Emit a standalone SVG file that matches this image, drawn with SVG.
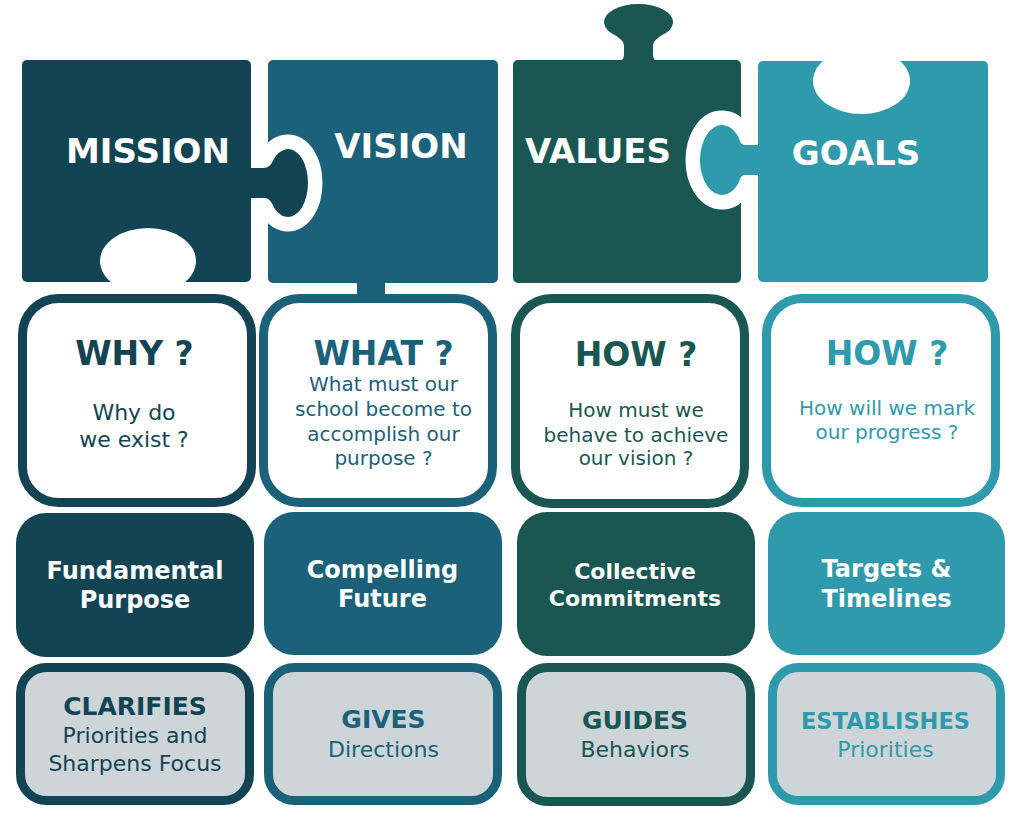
<svg xmlns="http://www.w3.org/2000/svg" width="1016" height="817" viewBox="0 0 1016 817">
<style>
.t{font-family:"DejaVu Sans","Verdana",sans-serif;text-anchor:middle}
.b{font-weight:bold}
.title{font-size:34px;fill:#fff;font-weight:bold}
.q{font-size:33px;font-weight:bold}
.s20{font-size:20px}
.s22{font-size:22px}
.c1{fill:#134454}.c2{fill:#1a6179}.c3{fill:#1a5752}.c4{fill:#2f9aab}
.o1{stroke:#134454}.o2{stroke:#1a6179}.o3{stroke:#1a5752}.o4{stroke:#2f9aab}
.box{fill:#fff;stroke-width:9}
.gbox{fill:#cdd5d9;stroke-width:9}
.w{fill:#fff}
.ring{fill:#fff;stroke:#fff;stroke-width:29;stroke-linejoin:round}
</style>
<defs>
  <path id="knobM" d="M246 168 L263 168 C268 168 270 166 272 162.6 A20 34 0 1 1 272 203.4 C270 200 268 198 263 198 L246 198 Z"/>
  <path id="knobG" d="M764 145 L745 145 C741 145 740 141 738 136 A22 35 0 1 0 738 184 C740 179 741 175 745 175 L764 175 Z"/>
</defs>
<rect width="1016" height="817" fill="#fff"/>
<g id="puzzle">
  <g id="vision-piece">
    <rect x="268" y="60" width="230" height="223" rx="5" class="c2"/>
    <path d="M353 281 C357 281 357 283 357 287 L357 300 L385 300 L385 287 C385 283 385 281 389 281 Z" class="c2"/>
  </g>
  <use href="#knobM" class="ring"/>
  <g id="mission-piece">
    <rect x="22" y="60" width="229" height="222" rx="5" class="c1"/>
    <use href="#knobM" class="c1"/>
    <ellipse cx="148" cy="261" rx="48" ry="33" class="w"/>
    <text x="148" y="163" class="t title">MISSION</text>
  </g>
  <text x="401" y="158" class="t title">VISION</text>
  <g id="values-piece">
    <rect x="513" y="60" width="228" height="223" rx="5" class="c3"/>
    <path d="M618 61 C623 61 624 58 624 53 L624 46 C624 41 620 39 616.5 35.9 A34.5 18 0 1 1 660.5 35.9 C657 39 653 41 653 46 L653 53 C653 58 654 61 659 61 Z" class="c3"/>
  </g>
  <use href="#knobG" class="ring"/>
  <g id="goals-piece">
    <rect x="758" y="61" width="230" height="221" rx="5" class="c4"/>
    <use href="#knobG" class="c4"/>
    <ellipse cx="861.5" cy="81" rx="48.5" ry="33" class="w"/>
    <text x="856" y="165" class="t title">GOALS</text>
  </g>
  <text x="598" y="163" class="t title">VALUES</text>
</g>
<g id="row2">
  <g id="why">
    <rect x="22.5" y="298.5" width="229" height="204" rx="36" class="box o1"/>
    <text x="134.5" y="365" class="t q c1">WHY ?</text>
    <text x="134" y="420" class="t s22 c1">Why do</text>
    <text x="134" y="447" class="t s22 c1">we exist ?</text>
  </g>
  <g id="what">
    <rect x="263.5" y="298.5" width="229" height="204" rx="36" class="box o2"/>
    <text x="383.5" y="365" class="t q c2">WHAT ?</text>
    <text x="383.5" y="391" class="t s20 c2">What must our</text>
    <text x="383.5" y="416" class="t s20 c2">school become to</text>
    <text x="383.5" y="441" class="t s20 c2">accomplish our</text>
    <text x="383.5" y="465" class="t s20 c2">purpose ?</text>
  </g>
  <g id="how1">
    <rect x="515.5" y="298.5" width="229" height="205" rx="36" class="box o3"/>
    <text x="636" y="366" class="t q c3">HOW ?</text>
    <text x="636" y="417" class="t s20 c3">How must we</text>
    <text x="636" y="442" class="t s20 c3">behave to achieve</text>
    <text x="636" y="465" class="t s20 c3">our vision ?</text>
  </g>
  <g id="how2">
    <rect x="766.5" y="298.5" width="229" height="204" rx="36" class="box o4"/>
    <text x="887" y="365" class="t q c4">HOW ?</text>
    <text x="887" y="415" class="t s20 c4">How will we mark</text>
    <text x="887" y="439" class="t s20 c4">our progress ?</text>
  </g>
</g>
<g id="row3">
  <g id="fundamental">
    <rect x="16" y="513" width="238" height="144" rx="30" class="c1"/>
    <text x="135" y="579" class="t b w" font-size="24">Fundamental</text>
    <text x="135" y="608" class="t b w" font-size="24">Purpose</text>
  </g>
  <g id="compelling">
    <rect x="264" y="512" width="238" height="143" rx="30" class="c2"/>
    <text x="382.5" y="578" class="t b w" font-size="24">Compelling</text>
    <text x="382.5" y="607" class="t b w" font-size="24">Future</text>
  </g>
  <g id="collective">
    <rect x="517" y="512" width="238" height="144" rx="30" class="c3"/>
    <text x="635" y="579" class="t b w" font-size="22">Collective</text>
    <text x="635" y="606" class="t b w" font-size="22">Commitments</text>
  </g>
  <g id="targets">
    <rect x="768" y="512" width="237" height="143" rx="30" class="c4"/>
    <text x="886.5" y="577" class="t b w" font-size="24">Targets &amp;</text>
    <text x="886.5" y="607" class="t b w" font-size="24">Timelines</text>
  </g>
</g>
<g id="row4">
  <g id="clarifies">
    <rect x="20.5" y="667.5" width="229" height="133" rx="26" class="gbox o1"/>
    <text x="135" y="715" class="t b c1" font-size="25">CLARIFIES</text>
    <text x="135" y="743" class="t s22 c1">Priorities and</text>
    <text x="135" y="771" class="t s22 c1">Sharpens Focus</text>
  </g>
  <g id="gives">
    <rect x="268.5" y="667.5" width="229" height="133" rx="26" class="gbox o2"/>
    <text x="383.5" y="728" class="t b c2" font-size="25">GIVES</text>
    <text x="383.5" y="757" class="t s22 c2">Directions</text>
  </g>
  <g id="guides">
    <rect x="521.5" y="667.5" width="229" height="134" rx="26" class="gbox o3"/>
    <text x="635" y="729" class="t b c3" font-size="25">GUIDES</text>
    <text x="635" y="757" class="t s22 c3">Behaviors</text>
  </g>
  <g id="establishes">
    <rect x="772.5" y="667.5" width="228" height="133" rx="26" class="gbox o4"/>
    <text x="885.5" y="729" class="t b c4" font-size="22.5">ESTABLISHES</text>
    <text x="885.5" y="757" class="t s22 c4">Priorities</text>
  </g>
</g>
<g id="connectors"></g>
</svg>
